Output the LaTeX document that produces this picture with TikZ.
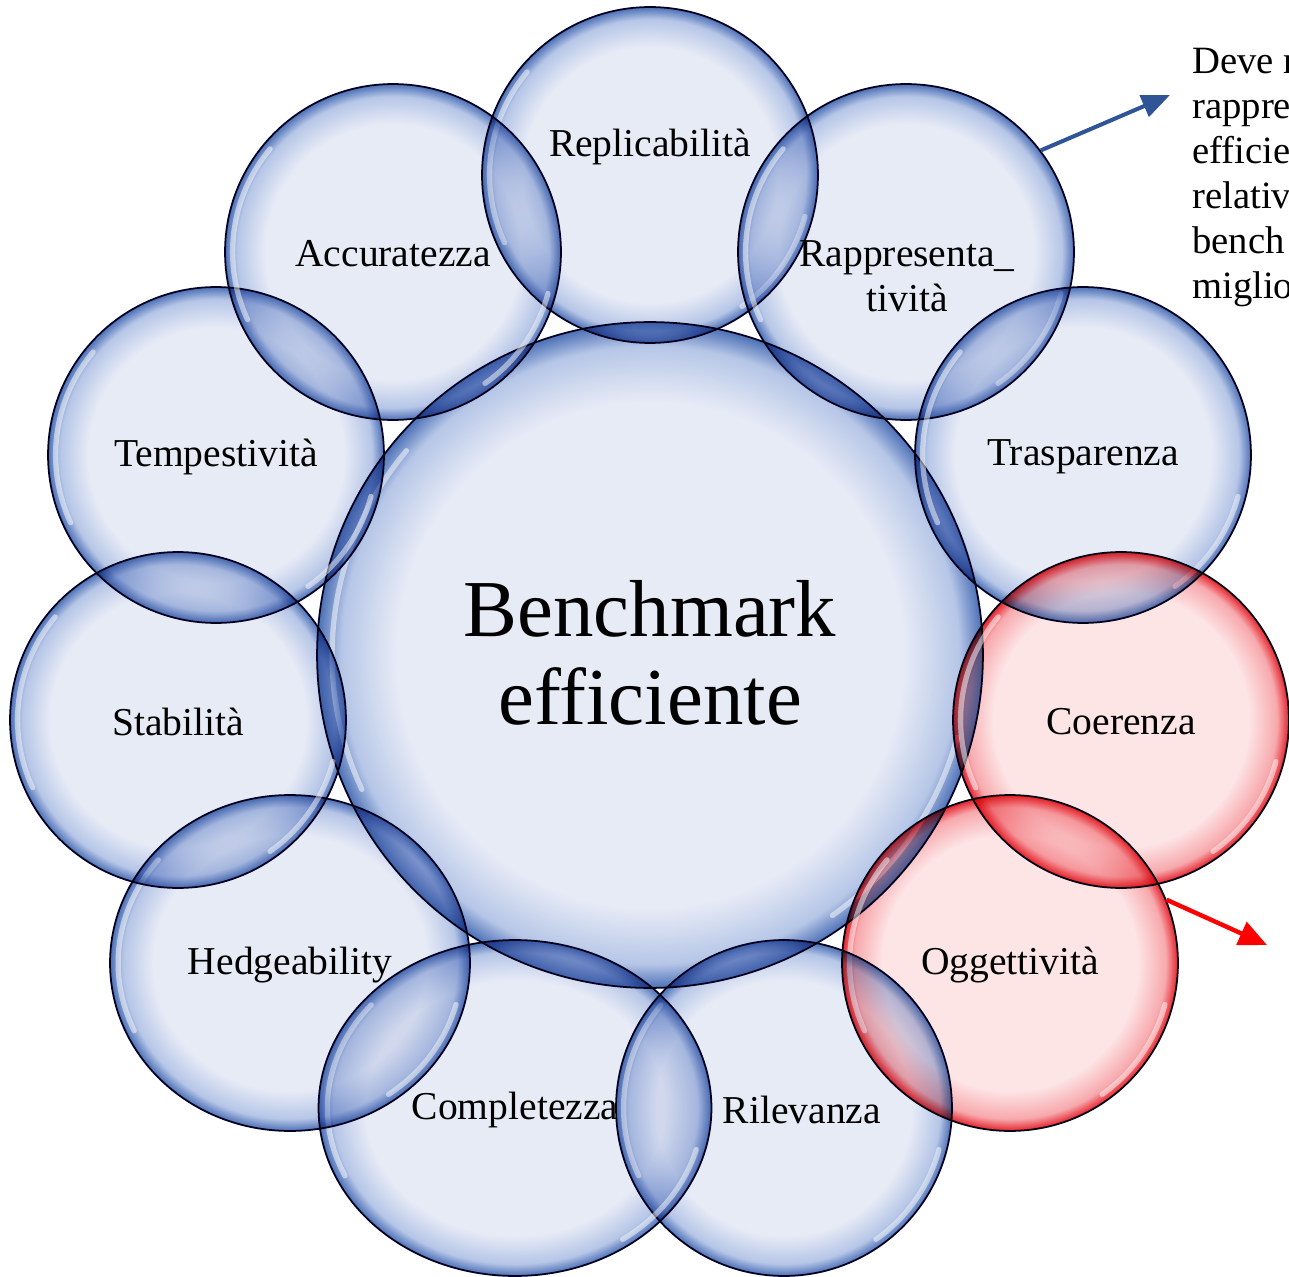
\documentclass[tikz,border=0pt]{standalone}
\usepackage{fontspec}
\setmainfont{Liberation Serif}
\usepackage{tikz}
\usetikzlibrary{arrows.meta, calc, shapes.geometric}
\definecolor{bubbleIn}{HTML}{E7EBF6}
\definecolor{bubbleMid}{HTML}{B6C6E7}
\definecolor{bubbleRim}{HTML}{4C70B6}
\definecolor{roseIn}{HTML}{FDE5E6}
\definecolor{roseMid}{HTML}{F7A9AD}
\definecolor{roseRim}{HTML}{E5222C}
\definecolor{arrowblue}{HTML}{2F5597}

\pgfdeclareradialshading{bluebubble}{\pgfpoint{0bp}{0bp}}{color(0bp)=(bubbleIn); color(19bp)=(bubbleIn); color(23.2bp)=(bubbleMid); color(25bp)=(bubbleRim); color(50bp)=(bubbleRim)}
\pgfdeclareradialshading{rosebubble}{\pgfpoint{0bp}{0bp}}{color(0bp)=(roseIn); color(19bp)=(roseIn); color(23.2bp)=(roseMid); color(25bp)=(roseRim); color(50bp)=(roseRim)}

\tikzset{
  shine/.style={white, line width=3pt, opacity=0.5, blend mode=normal, line cap=round},
  bubble/.style={ellipse, draw=black!85!blue, line width=1pt, shade, shading=bluebubble,
    blend mode=multiply, inner sep=0pt, minimum width=6.72cm, minimum height=6.72cm,
    path picture={
      \draw[shine] let \p1=(path picture bounding box.north east),
        \p2=(path picture bounding box.center),
        \n1={0.955*(\x1-\x2)}, \n2={0.955*(\y1-\y2)} in
        ($(\p2)+({\n1*cos(140)},{\n2*sin(140)})$)
          arc[start angle=140, end angle=205, x radius=\n1, y radius=\n2]
        ($(\p2)+({\n1*cos(-15)},{\n2*sin(-15)})$)
          arc[start angle=-15, end angle=-55, x radius=\n1, y radius=\n2];
    }},
  redbubble/.style={bubble, shading=rosebubble},
  bigbubble/.style={bubble, minimum width=13.32cm, minimum height=13.32cm},
  lbl/.style={inner sep=0pt, align=center, font=\fontsize{22.5}{25.5}\selectfont},
  note/.style={inner sep=0pt, align=left, font=\fontsize{22}{25.6}\selectfont},
  bluearrow/.style={-{Triangle[length=16pt,width=13pt]}, arrowblue, line width=2.3pt},
  redarrow/.style={-{Triangle[length=16pt,width=14pt]}, red, line width=2.5pt}
}

\begin{document}
\begin{tikzpicture}[x=0.02cm, y=-0.02cm]

    % Page frame
    \clip (0,0) rectangle (1289,1277);
    \fill[white] (0,0) rectangle (1289,1277);

    % Draw the central circle
    \node[bigbubble] (core) at (650,655) {};

    % Draw the ring of circles
    \node[bubble] (repl) at (650,175) {};
    \node[bubble] (rapp) at (906,252) {};
    \node[bubble] (tras) at (1083,455) {};
    \node[redbubble] (coer) at (1121,720) {};
    \node[redbubble] (ogg) at (1010,963) {};
    \node[bubble] (ril) at (784,1108) {};
    \node[bubble, minimum width=7.86cm] (comp) at (515,1108) {};
    \node[bubble, minimum width=7.2cm] (hedge) at (290,963) {};
    \node[bubble] (stab) at (178,720) {};
    \node[bubble] (temp) at (216,455) {};
    \node[bubble] (acc) at (393,252) {};

    % Labels
    \node[lbl, font=\fontsize{46}{50}\selectfont] (coreLbl) at (650,653) {Benchmark\\efficiente};
    \node[lbl] (replLbl) at (650,147) {Replicabilità};
    \node[lbl] (rappLbl) at (907,276) {Rappresenta\_\\tività};
    \node[lbl] (trasLbl) at (1083,457) {Trasparenza};
    \node[lbl] (coerLbl) at (1121,722) {Coerenza};
    \node[lbl] (oggLbl) at (1010,965) {Oggettività};
    \node[lbl] (rilLbl) at (802,1110) {Rilevanza};
    \node[lbl] (compLbl) at (515,1110) {Completezza};
    \node[lbl] (hedgeLbl) at (290,965) {Hedgeability};
    \node[lbl] (stabLbl) at (178,722) {Stabilità};
    \node[lbl] (tempLbl) at (216,457) {Tempestività};
    \node[lbl] (accLbl) at (393,254) {Accuratezza};

    % Side note, cut by the page edge
    \node[note, anchor=north west] (sideNote) at (1192,48) {Deve r\\rappre\\efficie\\relativ\\bench\\miglio};

    % Arrows to the side notes
    \coordinate (blueTip) at (1170,95);
    \coordinate (redTip) at (1267,945);
    \draw[bluearrow] (rapp.37) -- (blueTip);
    \draw[redarrow] (ogg.22) -- (redTip);

\end{tikzpicture}
\end{document}
